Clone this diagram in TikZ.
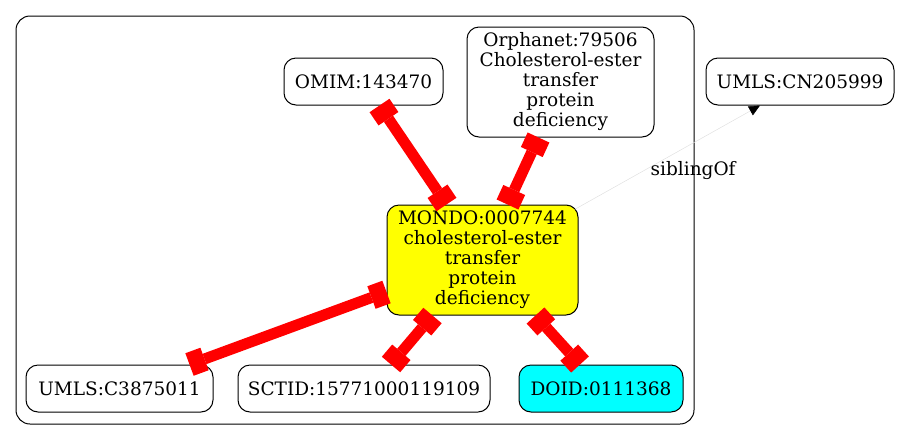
\documentclass[tikz,border=0pt]{standalone}
\usepackage{fontspec}
\setmainfont{DejaVu Serif}
\usetikzlibrary{arrows.meta,positioning,calc}

\definecolor{mondofill}{RGB}{255,255,0}
\definecolor{doidfill}{RGB}{0,255,255}
\definecolor{xrefred}{RGB}{255,0,0}

\tikzset{
  term/.style={draw, rounded corners=12pt, line width=1pt, align=center,
    inner sep=0pt, minimum height=47pt, font=\fontsize{18.5}{20}\selectfont},
  xref/.style={xrefred, line width=11pt,
    {Rectangle[length=16pt,width=24pt,line width=0pt]}-{Rectangle[length=16pt,width=24pt,line width=0pt]}},
  sibling/.style={black!12, line width=0.5pt,
    -{Triangle[length=11pt,width=10pt,color=black]}},
}

\begin{document}
\begin{tikzpicture}[x=1pt,y=-1pt]
    \useasboundingbox (0,0) rectangle (902,440);

    % Cluster box
    \draw[line width=1pt, rounded corners=14pt] (16,16) rectangle (694,424);

    % Terms
    \node[term, minimum width=159pt] (omim) at (363.5,81.5) {OMIM:143470};
    \node[term, minimum width=187pt, minimum height=110pt] (orpha) at (560.5,82)
        {Orphanet:79506\\Cholesterol-ester\\transfer\\protein\\deficiency};
    \node[term, minimum width=188pt] (cn) at (800,81.5) {UMLS:CN205999};
    \node[term, fill=mondofill, minimum width=191pt, minimum height=110pt] (mondo) at (482.5,260)
        {MONDO:0007744\\cholesterol-ester\\transfer\\protein\\deficiency};
    \node[term, minimum width=187pt] (umls) at (119.5,388.5) {UMLS:C3875011};
    \node[term, minimum width=252pt] (sctid) at (364,388.5) {SCTID:15771000119109};
    \node[term, fill=doidfill, minimum width=164pt] (doid) at (601,388.5) {DOID:0111368};

    % Cross-references
    \draw[xref] ([xshift=16pt]omim.south) -- ([xshift=-36pt]mondo.north);
    \draw[xref] ([xshift=-22pt]orpha.south) -- ([xshift=25pt]mondo.north);
    \draw[xref] ([xshift=70pt]umls.north) -- ([yshift=-32pt]mondo.west);
    \draw[xref] ([xshift=27pt]sctid.north) -- ([xshift=-50pt]mondo.south);
    \draw[xref] ([xshift=53pt]mondo.south) -- ([xshift=-21pt]doid.north);

    % Sibling link
    \draw[sibling] ([xshift=-4pt,yshift=-5pt]mondo.north east) -- ([xshift=-40pt]cn.south)
        node[pos=0.37, anchor=west, xshift=4pt, text=black,
             font=\fontsize{18.5}{20}\selectfont] (sib) {siblingOf};
\end{tikzpicture}
\end{document}
